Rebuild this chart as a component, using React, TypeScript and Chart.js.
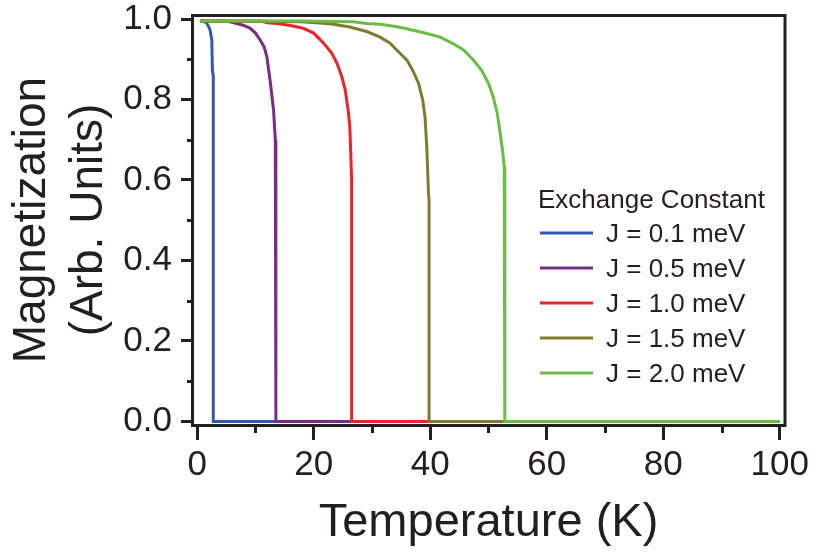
import React, { useEffect, useRef } from 'react';
import { Chart, registerables } from 'chart.js';

Chart.register(...registerables);

// ---- data ----
const seriesLabels = ['J = 0.1 meV', 'J = 0.5 meV', 'J = 1.0 meV', 'J = 1.5 meV', 'J = 2.0 meV'];
const seriesColors = ['#3356b0', '#7b2a88', '#ee2329', '#807a2f', '#69bd45'];

const tJ01 = [0.5, 1.0, 1.6, 2.0, 2.2, 2.5, 2.6, 2.75, 2.75, 100];
const mJ01 = [0.995, 0.995, 0.99, 0.98, 0.973, 0.948, 0.873, 0.86, 0, 0];

const tJ05 = [0.5, 5.0, 6.8, 8.0, 9.1, 10.0, 10.8, 11.5, 11.95, 12.5, 13.1, 13.4, 13.5, 13.5, 100];
const mJ05 = [0.995, 0.995, 0.989, 0.984, 0.977, 0.965, 0.948, 0.93, 0.906, 0.848, 0.774, 0.7, 0.65, 0, 0];

const tJ10 = [0.5, 11.0, 12.0, 13.7, 16.0, 18.2, 20.0, 21.7, 23.1, 24.0, 24.8, 25.4, 25.9, 26.2, 26.5, 26.5, 100];
const mJ10 = [0.995, 0.995, 0.991, 0.989, 0.984, 0.977, 0.965, 0.94, 0.915, 0.89, 0.857, 0.824, 0.774, 0.732, 0.6, 0, 0];

const tJ15 = [0.5, 17.7, 21.1, 23.4, 26.2, 29.1, 31.4, 33.1, 34.8, 36.0, 37.1, 38.0, 38.7, 39.1, 39.4, 39.7, 39.8, 39.8, 100];
const mJ15 = [0.995, 0.993, 0.99, 0.987, 0.98, 0.969, 0.955, 0.94, 0.915, 0.898, 0.869, 0.84, 0.799, 0.757, 0.683, 0.567, 0.55, 0, 0];

const tJ20 = [0.5, 17.7, 26.8, 29.1, 31.4, 34.3, 36.5, 39.4, 41.7, 43.9, 45.7, 47.4, 48.8, 50.0, 50.8, 51.5, 52.0, 52.4, 52.7, 52.8, 52.8, 100];
const mJ20 = [0.996, 0.995, 0.993, 0.989, 0.987, 0.981, 0.974, 0.964, 0.955, 0.939, 0.923, 0.898, 0.873, 0.84, 0.807, 0.766, 0.716, 0.675, 0.633, 0.62, 0, 0];

const xMajorTicks = [0, 20, 40, 60, 80, 100];
const xMinorTicks = [10, 30, 50, 70, 90];
const yMajorTicks = [0, 0.2, 0.4, 0.6, 0.8, 1.0];
const yMinorTicks = [0.1, 0.3, 0.5, 0.7, 0.9];

const xTitle = 'Temperature (K)';
const yTitle = ['Magnetization', '(Arb. Units)'];
const legendTitle = 'Exchange Constant';

const FONT = "'Liberation Sans', Arial, Helvetica, sans-serif";
const INK = '#231f20';

export default function App() {
  const ref = useRef<HTMLCanvasElement>(null);

  useEffect(() => {
    const series = [
      [tJ01, mJ01],
      [tJ05, mJ05],
      [tJ10, mJ10],
      [tJ15, mJ15],
      [tJ20, mJ20],
    ];
    const datasets = series.map(([t, m], i) => ({
      label: seriesLabels[i],
      data: t.map((x, k) => ({ x, y: m[k] })),
      borderColor: seriesColors[i],
      backgroundColor: seriesColors[i],
      borderWidth: 3,
      pointRadius: 0,
      fill: false,
      tension: 0,
      order: series.length - i,
    }));

    const framePlugin = {
      id: 'frame',
      afterDraw(chart: any) {
        const { ctx, chartArea } = chart;
        const xs = chart.scales.x;
        const ys = chart.scales.y;
        ctx.save();
        ctx.strokeStyle = INK;
        ctx.lineWidth = 3;
        ctx.lineCap = 'butt';
        // top and right frame
        ctx.beginPath();
        ctx.moveTo(chartArea.left, chartArea.top + 0.5);
        ctx.lineTo(chartArea.right + 1.5, chartArea.top + 0.5);
        ctx.moveTo(chartArea.right, chartArea.top);
        ctx.lineTo(chartArea.right, chartArea.bottom + 1.5);
        ctx.stroke();
        // minor ticks
        ctx.beginPath();
        for (const v of yMinorTicks) {
          const py = Math.round(ys.getPixelForValue(v)) + 0.5;
          ctx.moveTo(chartArea.left - 5, py);
          ctx.lineTo(chartArea.left, py);
        }
        for (const v of xMinorTicks) {
          const px = Math.round(xs.getPixelForValue(v)) + 0.5;
          ctx.moveTo(px, chartArea.bottom);
          ctx.lineTo(px, chartArea.bottom + 8);
        }
        ctx.stroke();

        // legend
        const lx = chartArea.left + 346;
        const ly = chartArea.top + 185;
        ctx.fillStyle = INK;
        ctx.font = `26px ${FONT}`;
        ctx.textAlign = 'left';
        ctx.textBaseline = 'alphabetic';
        ctx.fillText(legendTitle, lx, ly + 8);
        ctx.textBaseline = 'middle';
        seriesLabels.forEach((lab, i) => {
          const yy = ly + 33 + i * 35;
          ctx.strokeStyle = seriesColors[i];
          ctx.lineWidth = 3;
          ctx.beginPath();
          ctx.moveTo(lx + 2, yy);
          ctx.lineTo(lx + 55, yy);
          ctx.stroke();
          ctx.fillStyle = INK;
          ctx.fillText(lab, lx + 68, yy + 2);
        });
        ctx.restore();
      },
    };

    const chart = new Chart(ref.current as HTMLCanvasElement, {
      type: 'line',
      data: { datasets } as any,
      options: {
        animation: false,
        responsive: false,
        maintainAspectRatio: false,
        layout: { padding: { top: 15, right: 32, left: 0, bottom: 0 } },
        plugins: { legend: { display: false }, tooltip: { enabled: false } },
        scales: {
          x: {
            type: 'linear',
            min: -0.9,
            max: 100.9,
            afterBuildTicks: (s: any) => {
              s.ticks = xMajorTicks.map((v) => ({ value: v }));
            },
            afterFit: (s: any) => {
              s.height = 127;
              s.paddingLeft = 0;
              s.paddingRight = 0;
            },
            grid: { display: true, drawOnChartArea: false, drawTicks: true, tickLength: 15, tickWidth: 3, tickColor: INK },
            border: { display: true, color: INK, width: 3 },
            ticks: {
              color: INK,
              font: { family: FONT, size: 35 },
              padding: 4,
              maxRotation: 0,
              autoSkip: false,
              callback: (v: any) => String(v),
            },
            title: {
              display: true,
              text: xTitle,
              color: INK,
              font: { family: FONT, size: 47, lineHeight: 1.2 },
              padding: { top: 0, bottom: 1 },
            },
          },
          y: {
            type: 'linear',
            min: -0.009,
            max: 1.01,
            afterBuildTicks: (s: any) => {
              s.ticks = yMajorTicks.map((v) => ({ value: v }));
            },
            afterFit: (s: any) => {
              s.width = 192;
              s.paddingTop = 0;
              s.paddingBottom = 0;
            },
            grid: { display: true, drawOnChartArea: false, drawTicks: true, tickLength: 11, tickWidth: 3, tickColor: INK },
            border: { display: true, color: INK, width: 3 },
            ticks: {
              color: INK,
              font: { family: FONT, size: 35 },
              padding: 9,
              autoSkip: false,
              callback: (v: any) => Number(v).toFixed(1),
            },
            title: {
              display: true,
              text: yTitle,
              color: INK,
              font: { family: FONT, size: 46, lineHeight: 1.24 },
              padding: { top: 4, bottom: 0 },
            },
          },
        },
      },
      plugins: [framePlugin],
    });
    return () => chart.destroy();
  }, []);

  return (
    <div style={{ position: 'fixed', left: 0, top: 0, width: 817, height: 552, background: '#fff' }}>
      <canvas ref={ref} width={817} height={552} style={{ display: 'block', width: 817, height: 552 }} />
    </div>
  );
}
